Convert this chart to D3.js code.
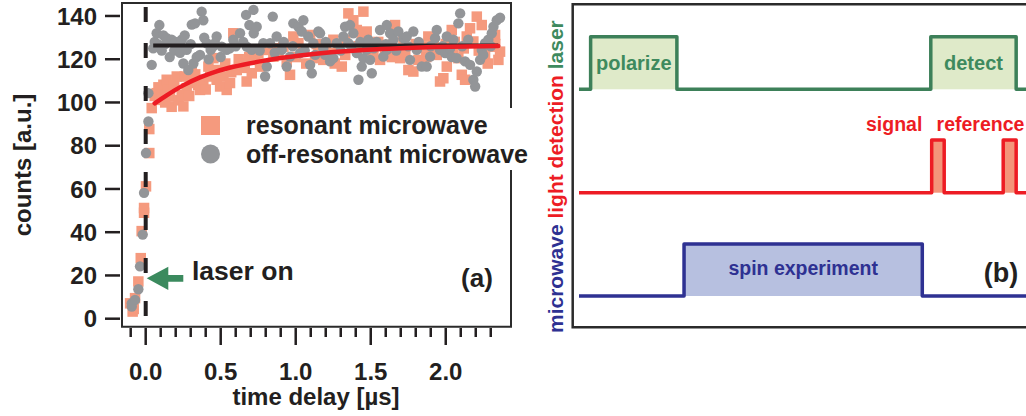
<!DOCTYPE html>
<html>
<head>
<meta charset="utf-8">
<script src="https://cdn.jsdelivr.net/npm/d3@7/dist/d3.min.js"></script>
<style>
  html, body { margin: 0; padding: 0; background: #fff; }
  svg { display: block; font-family: "Liberation Sans", Arial, Helvetica, sans-serif; font-weight: bold; }
</style>
</head>
<body>
<svg id="chart" width="1026" height="416"></svg>
<script>
// ---- Panel (a): fluorescence counts vs. time delay ----
// [time delay in µs, counts]
const resonant = [
  [-0.104, 7.1], [-0.087, 3.3], [-0.08, 4.5], [-0.071, 9.5], [-0.049, 17.2], [-0.033, 28],
  [-0.027, 40.5], [-0.011, 49], [-0.011, 51.2], [0.002, 61.2], [0.024, 76.6], [0.024, 87.7],
  [0.04, 97.4], [0.06, 103], [0.073, 104.3], [0.085, 107], [0.096, 101.2], [0.11, 104],
  [0.118, 108.2], [0.13, 100], [0.14, 110.5], [0.15, 106], [0.162, 102.7], [0.173, 98],
  [0.19, 108], [0.207, 112], [0.22, 101], [0.24, 103.5], [0.251, 98.2], [0.26, 112],
  [0.273, 106.6], [0.29, 103], [0.307, 114.3], [0.318, 109], [0.33, 113], [0.35, 108],
  [0.362, 105.8], [0.384, 110.5], [0.40, 106], [0.418, 116.6], [0.43, 112], [0.451, 120.5],
  [0.46, 115], [0.473, 110.5], [0.496, 107.4], [0.518, 112], [0.53, 118], [0.54, 105.8],
  [0.562, 109], [0.57, 114], [0.584, 132], [0.607, 115], [0.62, 120], [0.64, 118],
  [0.66, 116], [0.673, 109.7], [0.69, 121], [0.707, 113.5], [0.729, 119.7], [0.751, 122.8],
  [0.762, 116.6], [0.78, 118], [0.807, 124.3], [0.851, 121.2], [0.86, 125], [0.884, 122.8],
  [0.918, 125.8], [0.94, 119], [0.962, 112.8], [0.984, 130.5], [1.0, 121], [1.018, 127.4],
  [1.051, 124.3], [1.07, 118], [1.096, 131.2], [1.129, 120.5], [1.14, 127], [1.151, 125.8],
  [1.184, 119.7], [1.2, 127], [1.218, 122.8], [1.251, 129], [1.26, 118], [1.284, 125],
  [1.307, 116.6], [1.329, 129], [1.33, 122], [1.351, 141.2], [1.384, 138], [1.407, 133.5],
  [1.42, 126], [1.44, 129.7], [1.451, 142], [1.473, 132.8], [1.496, 121.2], [1.518, 124.3],
  [1.55, 128], [1.562, 119.7], [1.596, 124.3], [1.629, 126.6], [1.64, 121], [1.662, 135.8],
  [1.696, 120.5], [1.718, 129.7], [1.73, 123], [1.751, 115], [1.784, 114.3], [1.8, 127],
  [1.818, 119.7], [1.851, 125.8], [1.87, 121], [1.884, 130.5], [1.907, 124.3], [1.92, 128],
  [1.94, 122], [1.962, 109.7], [1.984, 111.2], [2.0, 127], [2.007, 116.6], [2.04, 133.5],
  [2.051, 123.5], [2.06, 128], [2.084, 120.5], [2.107, 112.8], [2.12, 125], [2.129, 110.5],
  [2.14, 130.5], [2.162, 134.3], [2.184, 128.2], [2.207, 139.7], [2.22, 124], [2.24, 135.8],
  [2.262, 121.2], [2.28, 118], [2.296, 125.8], [2.329, 131.2], [2.33, 127], [2.351, 119.7],
  [2.362, 123.5]
];

const offResonant = [
  [-0.093, 5.6], [-0.093, 7.1], [-0.071, 8.7], [-0.049, 13.6], [-0.038, 24.2], [-0.02, 38.9],
  [-0.011, 58.2], [0.002, 76.6], [0.018, 91.2], [0.018, 104.3], [0.04, 117.4], [0.05, 125],
  [0.06, 128], [0.073, 132], [0.08, 127], [0.091, 135.8], [0.1, 126], [0.107, 124],
  [0.118, 131], [0.129, 127], [0.14, 129.7], [0.16, 121], [0.173, 129], [0.19, 124],
  [0.2, 128], [0.218, 126], [0.229, 123], [0.24, 129], [0.251, 118], [0.26, 131],
  [0.273, 124.3], [0.284, 115], [0.3, 127], [0.307, 136], [0.318, 118], [0.329, 136.6],
  [0.34, 121], [0.362, 122], [0.373, 142], [0.384, 138], [0.39, 130], [0.407, 127.4],
  [0.42, 120], [0.433, 124.3], [0.45, 126], [0.462, 127.4], [0.473, 130.5], [0.5, 121],
  [0.507, 125.8], [0.54, 124.3], [0.56, 125], [0.584, 129], [0.6, 126], [0.629, 132],
  [0.65, 128], [0.669, 140.5], [0.673, 125.8], [0.691, 135.8], [0.707, 124.3], [0.718, 142.8],
  [0.72, 132], [0.74, 135], [0.76, 124], [0.784, 127.4], [0.796, 112], [0.807, 116.6],
  [0.829, 127.4], [0.847, 139.7], [0.86, 123], [0.873, 130.5], [0.907, 124.3], [0.92, 128],
  [0.94, 116.6], [0.962, 121.2], [0.98, 126], [0.984, 136.6], [1.018, 135], [1.029, 122.8],
  [1.04, 132.8], [1.051, 138], [1.06, 124], [1.084, 130.5], [1.096, 117.4], [1.107, 113.5],
  [1.118, 127.4], [1.13, 122], [1.151, 132.8], [1.162, 132], [1.184, 125], [1.196, 122],
  [1.2, 128], [1.229, 119], [1.251, 120.5], [1.273, 127.4], [1.3, 124], [1.318, 130.5],
  [1.329, 135], [1.351, 127.4], [1.362, 135.8], [1.37, 126], [1.384, 132], [1.407, 122.8],
  [1.418, 110.5], [1.43, 128], [1.44, 116.6], [1.451, 120.5], [1.473, 124.3], [1.484, 129],
  [1.496, 119.7], [1.507, 113.5], [1.52, 125], [1.54, 128], [1.562, 133.5], [1.584, 121.2],
  [1.6, 127], [1.607, 124.3], [1.607, 135.8], [1.629, 132], [1.651, 129], [1.67, 124],
  [1.684, 132.8], [1.718, 129.7], [1.74, 130.5], [1.75, 126], [1.762, 119.7], [1.784, 132.8],
  [1.807, 124.3], [1.82, 128], [1.84, 116.6], [1.873, 116.6], [1.896, 121.2], [1.9, 126],
  [1.929, 129.7], [1.94, 133.5], [1.962, 124.3], [1.98, 126], [1.996, 122.8], [2.007, 130.5],
  [2.029, 125], [2.04, 121], [2.051, 129], [2.073, 120.5], [2.084, 136.6], [2.096, 141.2],
  [2.11, 126], [2.129, 119], [2.15, 129], [2.162, 117.4], [2.184, 110.5], [2.196, 107.4],
  [2.207, 114.3], [2.229, 119.7], [2.24, 124.3], [2.25, 122], [2.262, 127.4], [2.284, 129],
  [2.3, 126], [2.307, 132], [2.318, 135], [2.34, 138], [2.362, 139.2]
];

// exponential recovery fit through the resonant data
const resonantFit = [
  [0.06, 99.6], [0.14, 103.3], [0.25, 107.9], [0.362, 111.6], [0.473, 114.4], [0.584, 116.5],
  [0.807, 119.5], [1.029, 121.7], [1.251, 123.3], [1.473, 124.4], [1.696, 125.1],
  [1.918, 125.6], [2.14, 125.9], [2.35, 126.1]
];
// flat level of the off-resonant data
const offResonantLevel = 126.3;
const fitRange = [0.05, 2.35];
const laserOnTime = 0;

const yTicks = [0, 20, 40, 60, 80, 100, 120, 140];
const xMajorTicks = [0.0, 0.5, 1.0, 1.5, 2.0];
const xMinorTicks = [-0.1, 0.1, 0.2, 0.3, 0.4, 0.6, 0.7, 0.8, 0.9, 1.1, 1.2, 1.3, 1.4,
                     1.6, 1.7, 1.8, 1.9, 2.1, 2.2, 2.3];
const legendLabels = ["resonant microwave", "off-resonant microwave"];

// ---- Panel (b): pulse sequence (arbitrary time units) ----
const laserPulses = [[2.6, 21.9, "polarize"], [78.7, 97.8, "detect"]];
const detectionPulses = [[78.9, 81.7], [94.9, 97.8]];
const detectionLabels = [[64.2, "signal"], [80.0, "reference"]];
const microwavePulses = [[23.5, 76.8, "spin experiment"]];
const channelNames = [["microwave", "#2e3192"], ["light detection", "#ed1c24"], ["laser", "#3e8a5e"]];

const ink = "#231f20";
const salmon = "#f59a7e";
const grey = "#939598";

const svg = d3.select("#chart");

// ================= Panel (a) =================
const x = d3.scaleLinear().domain([-0.158, 2.435]).range([122, 511]);
const y = d3.scaleLinear().domain([-3.7, 146]).range([326.7, 3]);

const pa = svg.append("g");

// data
pa.append("g").selectAll("rect").data(resonant).join("rect")
  .attr("x", d => x(d[0]) - 5.25).attr("y", d => y(d[1]) - 5.25)
  .attr("width", 10.5).attr("height", 10.5).attr("fill", salmon);
pa.append("g").selectAll("circle").data(offResonant).join("circle")
  .attr("cx", d => x(d[0])).attr("cy", d => y(d[1])).attr("r", 5.2).attr("fill", grey);

// fit lines
pa.append("line")
  .attr("x1", x(fitRange[0])).attr("x2", x(fitRange[1]))
  .attr("y1", y(offResonantLevel)).attr("y2", y(offResonantLevel))
  .attr("stroke", ink).attr("stroke-width", 4);
pa.append("path").datum(resonantFit)
  .attr("d", d3.line().x(d => x(d[0])).y(d => y(d[1])).curve(d3.curveMonotoneX))
  .attr("fill", "none").attr("stroke", "#ed1c24").attr("stroke-width", 4.5)
  .attr("stroke-linecap", "round");

// laser-on marker
pa.append("line")
  .attr("x1", x(laserOnTime)).attr("x2", x(laserOnTime))
  .attr("y1", 7).attr("y2", 321)
  .attr("stroke", ink).attr("stroke-width", 4)
  .attr("stroke-dasharray", "15,21,15,28,15,28,15,28,15,28,15,28,15,28,15,28");

// legend (white box sits over the right frame edge)
const lg = pa.append("g");
lg.append("rect").attr("x", 193).attr("y", 108).attr("width", 337).attr("height", 62).attr("fill", "#fff");
lg.append("rect").attr("x", 201).attr("y", 116).attr("width", 19).attr("height", 19).attr("fill", salmon);
lg.append("circle").attr("cx", 210.5).attr("cy", 154).attr("r", 9.5).attr("fill", grey);
lg.selectAll("text").data(legendLabels).join("text")
  .attr("x", 246).attr("y", (d, i) => 134 + i * 29)
  .attr("font-size", 25).attr("fill", ink).text(d => d);

// frame (drawn in pieces so the legend box breaks the right edge)
const frame = pa.append("g").attr("stroke", "#2b2b2b").attr("stroke-width", 2).attr("fill", "none");
frame.append("path").attr("d", `M511,108 V3 H122 V326.7 H511 V170`);

// y axis
const yAxis = pa.append("g");
yAxis.selectAll("line").data(yTicks).join("line")
  .attr("x1", 105).attr("x2", 120).attr("y1", d => y(d)).attr("y2", d => y(d))
  .attr("stroke", ink).attr("stroke-width", 2.5);
yAxis.selectAll("text").data(yTicks).join("text")
  .attr("x", 97).attr("y", d => y(d)).attr("dy", "0.36em")
  .attr("text-anchor", "end").attr("font-size", 24).attr("fill", ink).text(d => d);

// x axis
const xAxis = pa.append("g");
xAxis.selectAll("line.major").data(xMajorTicks).join("line").attr("class", "major")
  .attr("x1", d => x(d)).attr("x2", d => x(d)).attr("y1", 328).attr("y2", 345)
  .attr("stroke", ink).attr("stroke-width", 2.5);
xAxis.selectAll("line.minor").data(xMinorTicks).join("line").attr("class", "minor")
  .attr("x1", d => x(d)).attr("x2", d => x(d)).attr("y1", 328).attr("y2", 337)
  .attr("stroke", ink).attr("stroke-width", 2.5);
xAxis.selectAll("text").data(xMajorTicks).join("text")
  .attr("x", d => x(d)).attr("y", 380)
  .attr("text-anchor", "middle").attr("font-size", 24).attr("fill", ink).text(d => d.toFixed(1));

pa.append("text").attr("x", 316).attr("y", 405).attr("text-anchor", "middle")
  .attr("font-size", 24).attr("fill", ink).text("time delay [µs]");
pa.append("text").attr("transform", "translate(31,165) rotate(-90)").attr("text-anchor", "middle")
  .attr("font-size", 24).attr("fill", ink).text("counts [a.u.]");

// annotations
pa.append("path")
  .attr("d", "M146.7,278.3 L168.3,266.7 L168.3,275 L183.3,275 L183.3,281.7 L168.3,281.7 L168.3,290 Z")
  .attr("fill", "#3b8a5e");
pa.append("text").attr("x", 192).attr("y", 280).attr("font-size", 26.5).attr("fill", ink).text("laser on");
pa.append("text").attr("x", 477).attr("y", 287).attr("text-anchor", "middle")
  .attr("font-size", 26).attr("fill", ink).text("(a)");

// ================= Panel (b) =================
const t = d3.scaleLinear().domain([0, 100]).range([579, 1026]);
const pb = svg.append("g");

// frame: left, top and bottom edges run off the right side
pb.append("path").attr("d", "M1030,4.3 H572.7 V327.3 H1030")
  .attr("fill", "none").attr("stroke", "#2b2b2b").attr("stroke-width", 2.5);

function trace(pulses, low, high, stroke, fill) {
  const g = pb.append("g");
  g.selectAll("rect").data(pulses).join("rect")
    .attr("x", d => t(d[0])).attr("y", high)
    .attr("width", d => t(d[1]) - t(d[0])).attr("height", low - high)
    .attr("fill", fill);
  let d = `M${t(0)},${low}`;
  pulses.forEach(p => {
    d += ` H${t(p[0])} V${high} H${t(p[1])} V${low}`;
  });
  d += ` H${t(100)}`;
  g.append("path").attr("d", d).attr("fill", "none")
    .attr("stroke", stroke).attr("stroke-width", 3.5).attr("stroke-linejoin", "round");
  return g;
}

const laserG = trace(laserPulses, 89.3, 36.7, "#3d8059", "#dfeac9");
laserG.selectAll("text").data(laserPulses).join("text")
  .attr("x", d => (t(d[0]) + t(d[1])) / 2).attr("y", 70)
  .attr("text-anchor", "middle").attr("font-size", 20).attr("fill", "#3e8a5e").text(d => d[2]);

trace(detectionPulses, 192.7, 140, "#ed1c24", "#f4957a");
pb.append("g").selectAll("text").data(detectionLabels).join("text")
  .attr("x", d => t(d[0])).attr("y", 131)
  .attr("font-size", 19.5).attr("fill", "#ed1c24").text(d => d[1]);

const mwG = trace(microwavePulses, 296, 244, "#2e3192", "#b7c0e0");
mwG.selectAll("text").data(microwavePulses).join("text")
  .attr("x", d => (t(d[0]) + t(d[1])) / 2).attr("y", 275)
  .attr("text-anchor", "middle").attr("font-size", 19.5).attr("fill", "#2e3192").text(d => d[2]);

// channel names, read bottom to top
const names = pb.append("text").attr("transform", "translate(563,333) rotate(-90)")
  .attr("font-size", 21);
channelNames.forEach((c, i) => {
  names.append("tspan").attr("fill", c[1]).text((i ? " " : "") + c[0]);
});

pb.append("text").attr("x", 1001).attr("y", 282).attr("text-anchor", "middle")
  .attr("font-size", 27).attr("fill", ink).text("(b)");
</script>
</body>
</html>
